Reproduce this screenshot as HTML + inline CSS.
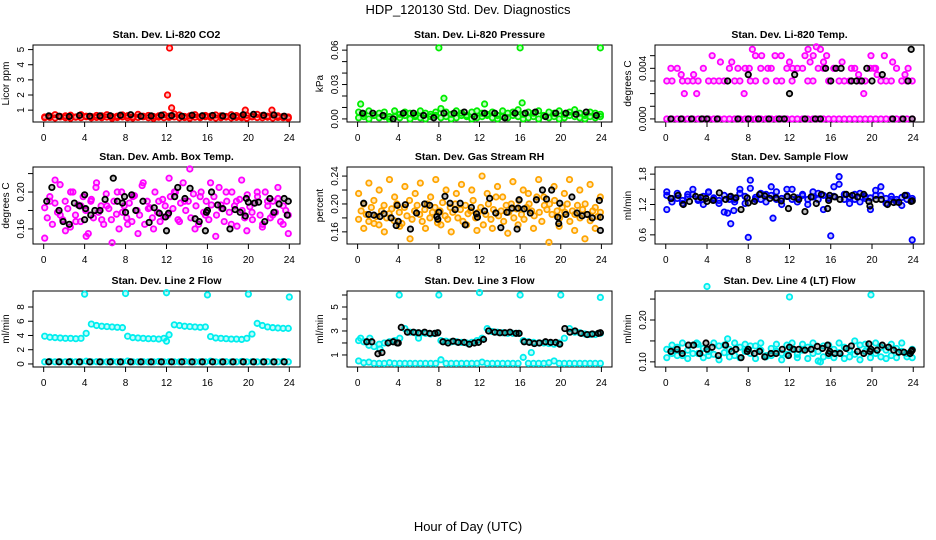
<!DOCTYPE html>
<html><head><meta charset="utf-8"><style>
html,body{margin:0;padding:0;background:#fff;}
svg{display:block;font-family:"Liberation Sans",Arial,sans-serif;}
</style></head><body>
<svg id="chart" width="936" height="540" viewBox="0 0 936 540">
<text x="468" y="14" font-size="13" text-anchor="middle">HDP_120130 Std. Dev. Diagnostics</text>
<text x="468" y="531" font-size="13" text-anchor="middle">Hour of Day (UTC)</text>
</svg>
<script>
// ---- data ----
const xTicks=[0,4,8,12,16,20,24];
const co2Red=[0.55,0.6,0.7,0.58,0.62,0.66,0.55,0.7,0.6,0.57,0.65,0.62,0.7,0.58,0.6,0.68,0.63,0.55,0.72,0.6,0.65,0.58,0.62,0.7,0.6,0.75,0.68,0.58,0.62,0.7,0.55,0.65,0.6,0.68,0.62,0.58,0.7,0.64,0.6,0.66,0.58,0.72,0.65,0.6,0.68,0.62,0.58,0.55];
const co2Red2=[0.5,0.52,0.48,0.55,0.5,0.47,0.53,0.5,0.56,0.49,0.52,0.5,0.54,0.47,0.51,0.55,0.5,0.48,0.52,0.56,0.5,0.46,0.53,0.5,0.52,0.55,0.49,0.51,0.47,0.53,0.5,0.56,0.52,0.48,0.5,0.54,0.49,0.52,0.5,0.47,0.55,0.51,0.5,0.53,0.48,0.52,0.5,0.47];
const co2OutH=[12.3,12.1,12.5,19.7,22.3];
const co2OutV=[5.1,2.0,1.15,1.0,1.0];
const co2Black=[0.62,0.6,0.58,0.65,0.6,0.62,0.63,0.66,0.7,0.6,0.62,0.66,0.64,0.6,0.66,0.63,0.65,0.62,0.6,0.7,0.72,0.66,0.68,0.6];
const presGreen=[0.006,0.004,0.007,0.003,0.005,0.006,0.002,0.007,0.004,0.006,0.005,0.003,0.007,0.005,0.004,0.006,0.009,0.006,0.004,0.007,0.005,0.003,0.006,0.007,0.005,0.004,0.006,0.003,0.007,0.005,0.006,0.008,0.004,0.006,0.005,0.007,0.003,0.006,0.005,0.007,0.004,0.006,0.008,0.005,0.003,0.006,0.005,0.004];
const presGreen2=[0.001,0.002,0.0,0.003,0.001,0.002,0.0,0.002,0.001,0.003,0.0,0.002,0.001,0.0,0.002,0.003,0.001,0.002,0.0,0.001,0.003,0.002,0.0,0.001,0.002,0.003,0.001,0.0,0.002,0.001,0.003,0.002,0.0,0.001,0.002,0.0,0.003,0.001,0.002,0.0,0.001,0.003,0.002,0.001,0.0,0.002,0.001,0.002];
const presOutH=[8,16,23.9,0.3,8.5,12.5,16.2];
const presOutV=[0.062,0.062,0.062,0.013,0.018,0.013,0.014];
const presBlack=[0.005,0.005,0.003,0.0,0.005,0.005,0.003,0.001,0.005,0.005,0.006,0.002,0.005,0.005,0.001,0.005,0.005,0.006,0.002,0.005,0.005,0.004,0.006,0.003];
const tempLow=[0,0,0,0,0,0,0,0,0,0,0,0,0,0,0,0,0,0,0,0,0,0,0,0,0,0,0,0,0,0,0,0,0,0,0,0,0,0,0,0,0,0,0,0,0,0,0,0];
const tempMid=[0.003,0.003,0.004,0.003,0.003,0.003,0.003,0.004,0.003,0.003,0.003,0.003,0.004,0.003,0.003,0.004,0.003,0.003,0.004,0.003,0.004,0.003,0.003,0.004,0.003,0.004,0.004,0.003,0.003,0.004,0.004,0.003,0.004,0.003,0.003,0.003,0.004,0.003,0.003,0.004,0.004,0.003,0.003,0.003,0.004,0.003,0.003,0.003];
const tempHighH=[0.5,1.5,1.8,2.7,3.0,4.5,5.3,6.4,7.0,7.6,8.1,8.4,8.7,9.3,9.9,10.6,11.2,12.0,12.3,13.5,13.8,14.0,14.3,14.6,15.0,15.3,15.6,16.3,17.1,18.0,18.7,19.2,19.9,20.2,20.5,21.2,22.0,23.2,23.5];
const tempHighV=[0.004,0.0035,0.002,0.0035,0.002,0.005,0.0045,0.0045,0.004,0.002,0.004,0.0055,0.005,0.005,0.004,0.005,0.005,0.0045,0.004,0.005,0.0055,0.0045,0.005,0.0057,0.0055,0.0045,0.005,0.004,0.0045,0.004,0.0035,0.002,0.005,0.004,0.0035,0.005,0.0045,0.0035,0.004];
const tempBlackH=[0.5,1.5,2.5,3.5,4.0,5.0,6.0,7.0,8.0,8.0,9.0,10.0,11.0,11.5,12.0,12.5,13.5,14.5,15.0,15.5,16.0,16.5,17.0,18.0,18.5,19.0,19.5,20.0,21.0,22.0,23.0,23.5,23.8,23.9];
const tempBlackV=[0,0,0,0,0,0,0.003,0,0,0.0035,0,0,0,0,0.002,0.0035,0,0,0,0.004,0.003,0.004,0.004,0.003,0.003,0.003,0.004,0.003,0.0035,0,0,0.003,0.0055,0];
const ambMag=[0.183,0.172,0.195,0.165,0.188,0.178,0.208,0.17,0.19,0.182,0.162,0.2,0.175,0.186,0.168,0.195,0.18,0.155,0.19,0.172,0.205,0.178,0.185,0.165,0.198,0.182,0.17,0.19,0.176,0.16,0.2,0.185,0.172,0.188,0.168,0.196,0.18,0.175,0.207,0.165,0.19,0.183,0.172,0.2,0.178,0.168,0.192,0.185,
0.175,0.195,0.182,0.2,0.17,0.188,0.21,0.18,0.19,0.172,0.198,0.185,0.165,0.2,0.178,0.19,0.17,0.186,0.195,0.175,0.205,0.182,0.168,0.19,0.178,0.2,0.185,0.163,0.192,0.18,0.172,0.197,0.184,0.17,0.188,0.195,0.175,0.165,0.2,0.185,0.172,0.19,0.178,0.193,0.168,0.185,0.18,0.175];
const ambMag2=[0.15,0.19,0.213,0.175,0.158,0.2,0.168,0.185,0.152,0.192,0.21,0.17,0.185,0.145,0.2,0.178,0.165,0.195,0.155,0.21,0.182,0.16,0.19,0.173,0.215,0.2,0.168,0.19,0.225,0.16,0.195,0.175,0.21,0.152,0.186,0.2,0.165,0.19,0.213,0.158,0.178,0.2,0.162,0.19,0.175,0.205,0.165,0.155];
const ambBlackH=[0.3,0.8,1.5,1.9,2.5,3.0,3.5,4.0,4.0,4.1,4.6,5.0,5.5,6.0,6.8,7.2,7.7,7.9,8.0,8.6,9.0,9.7,10.3,10.8,11.3,11.9,12.0,12.2,12.8,13.1,13.8,14.3,14.8,15.2,15.8,15.9,16.0,16.4,17.0,17.5,18.2,18.7,19.2,19.7,19.8,20.0,20.6,21.0,21.6,22.1,22.5,23.0,23.5,23.8,23.9];
const ambBlackV=[0.19,0.205,0.18,0.168,0.165,0.188,0.185,0.17,0.197,0.182,0.175,0.18,0.18,0.192,0.215,0.19,0.188,0.195,0.178,0.197,0.18,0.19,0.167,0.183,0.177,0.173,0.158,0.177,0.195,0.205,0.193,0.204,0.171,0.168,0.158,0.178,0.18,0.2,0.186,0.182,0.16,0.181,0.178,0.174,0.193,0.189,0.188,0.189,0.168,0.193,0.178,0.187,0.193,0.175,0.19];
const rhOrg=[0.178,0.19,0.2,0.185,0.175,0.195,0.205,0.182,0.17,0.19,0.198,0.18,0.186,0.193,0.176,0.2,0.188,0.172,0.195,0.183,0.205,0.178,0.19,0.198,0.185,0.175,0.192,0.2,0.18,0.188,0.195,0.173,0.19,0.202,0.183,0.178,0.195,0.188,0.2,0.18,0.192,0.175,0.198,0.186,0.19,0.205,0.18,0.188,
0.195,0.17,0.185,0.2,0.178,0.192,0.21,0.183,0.19,0.175,0.198,0.188,0.2,0.18,0.193,0.205,0.185,0.178,0.195,0.2,0.19,0.183,0.21,0.188,0.175,0.198,0.192,0.2,0.185,0.205,0.19,0.18,0.195,0.188,0.2,0.175,0.19,0.185,0.198,0.18,0.192,0.2,0.185,0.176,0.19,0.195,0.182,0.188];
const rhOrg2=[0.215,0.165,0.23,0.172,0.22,0.16,0.235,0.21,0.168,0.225,0.15,0.215,0.23,0.165,0.21,0.235,0.17,0.22,0.16,0.215,0.228,0.17,0.22,0.162,0.24,0.215,0.165,0.225,0.21,0.158,0.232,0.17,0.22,0.215,0.165,0.235,0.21,0.145,0.225,0.168,0.215,0.235,0.162,0.22,0.15,0.228,0.165,0.21];
const rhBlackH=[0.6,1.1,1.6,2.2,2.6,3.3,3.8,3.9,4.0,4.7,5.2,5.8,6.6,7.1,7.8,7.9,8.0,8.6,9.1,9.6,10.1,10.6,11.2,11.7,11.8,12.5,13.0,13.6,14.1,14.7,15.2,15.7,15.8,15.9,16.4,17.0,17.6,18.2,18.6,19.1,19.7,19.8,19.9,20.5,21.1,21.6,22.1,22.6,23.1,23.8,23.9,23.9];
const rhBlackV=[0.201,0.185,0.184,0.182,0.186,0.18,0.169,0.198,0.175,0.199,0.164,0.187,0.2,0.198,0.182,0.178,0.188,0.211,0.201,0.192,0.201,0.17,0.195,0.186,0.181,0.19,0.208,0.187,0.166,0.188,0.194,0.164,0.194,0.206,0.193,0.187,0.206,0.22,0.207,0.22,0.181,0.172,0.201,0.185,0.21,0.187,0.183,0.185,0.18,0.205,0.181,0.162];
const sfBlue=[1.38,1.32,1.42,1.28,1.35,1.4,1.3,1.36,1.44,1.33,1.28,1.38,1.35,1.3,1.42,1.36,1.52,1.34,1.3,1.4,1.38,1.45,1.32,1.36,1.5,1.33,1.4,1.3,1.35,1.42,1.38,1.32,1.36,1.6,1.4,1.35,1.3,1.42,1.36,1.33,1.48,1.38,1.32,1.36,1.3,1.34,1.38,1.32];
const sfBlue2=[1.45,1.25,1.32,1.22,1.4,1.5,1.28,1.2,1.45,1.3,1.22,1.05,1.3,1.25,1.5,1.22,1.68,1.3,1.42,1.25,1.55,1.3,1.2,1.5,1.3,1.25,1.38,1.2,1.45,1.3,1.1,1.33,1.55,1.75,1.3,1.22,1.4,1.25,1.32,1.1,1.38,1.55,1.22,1.3,1.25,1.18,1.3,1.28];
const sfOutH=[6.3,8.0,16.0,23.9,10.4,0.1,6.0,6.6];
const sfOutV=[0.82,0.55,0.58,0.5,0.93,1.1,1.03,1.08];
const sfBlackH=[0.5,1.2,1.7,2.3,2.9,3.4,3.9,4.0,4.6,5.2,5.8,6.3,6.8,7.3,7.9,8.0,8.6,9.1,9.6,10.1,10.7,11.2,11.8,11.9,12.4,12.9,13.5,14.1,14.6,15.1,15.7,15.8,15.9,16.4,16.9,17.5,18.1,18.6,19.2,19.7,19.8,20.4,20.9,21.5,22.1,22.6,23.2,23.8,23.9];
const sfBlackV=[1.32,1.38,1.2,1.26,1.36,1.34,1.32,1.26,1.28,1.43,1.3,1.36,1.33,1.1,1.33,1.23,1.26,1.4,1.37,1.32,1.33,1.27,1.36,1.12,1.35,1.3,1.06,1.35,1.22,1.4,1.12,1.28,1.38,1.35,1.3,1.4,1.38,1.35,1.4,1.26,1.17,1.3,1.3,1.2,1.24,1.24,1.38,1.26,1.27];
const l2Cyan=[3.9,3.75,3.7,3.65,3.6,3.6,3.55,3.6,4.3,5.6,5.4,5.3,5.25,5.2,5.15,5.1,3.9,3.7,3.65,3.6,3.55,3.55,3.5,3.6,4.1,5.5,5.4,5.3,5.25,5.2,5.15,5.2,3.85,3.65,3.6,3.55,3.5,3.5,3.45,3.6,4.2,5.7,5.4,5.2,5.1,5.05,5.0,5.0];
const l2Low=[0.3,0.35,0.3,0.32,0.3,0.35,0.3,0.3,0.38,0.3,0.32,0.3,0.3,0.35,0.3,0.3,0.4,0.3,0.3,0.32,0.3,0.3,0.35,0.3,0.32,0.3,0.3,0.35,0.3,0.3,0.32,0.3,0.38,0.3,0.3,0.32,0.3,0.3,0.35,0.3,0.32,0.3,0.3,0.32,0.3,0.3,0.35,0.3];
const l2OutH=[4.0,8.0,12.0,16.0,20.0,24.0,12.0];
const l2OutV=[9.8,9.9,10.0,9.7,9.8,9.4,3.2];
const l2Black=[0.3,0.3,0.3,0.3,0.3,0.3,0.3,0.3,0.3,0.3,0.3,0.3,0.3,0.3,0.3,0.3,0.3,0.3,0.3,0.3,0.3,0.3,0.3,0.3];
const l3Cyan=[2.2,2.1,1.8,1.7,1.9,2.0,2.1,2.2,2.4,3.2,2.9,2.85,2.8,2.8,2.75,2.8,2.2,2.15,2.1,2.1,2.05,2.0,2.05,2.2,2.4,3.2,2.95,2.9,2.85,2.8,2.8,2.8,2.2,2.1,2.05,2.0,2.0,1.95,1.9,2.0,2.4,3.2,2.9,2.85,2.75,2.7,2.7,2.8];
const l3Low=[0.5,0.35,0.4,0.3,0.3,0.3,0.35,0.3,0.3,0.3,0.3,0.3,0.3,0.3,0.3,0.3,0.6,0.3,0.3,0.3,0.3,0.3,0.3,0.3,0.4,0.3,0.3,0.3,0.3,0.3,0.3,0.3,0.8,0.3,0.3,0.3,0.3,0.35,0.5,0.3,0.3,0.3,0.3,0.3,0.3,0.3,0.3,0.3];
const l3OutH=[4.1,8.0,12.0,16.0,20.0,23.9,0.3,1.2,2.2,17.1,6.0];
const l3OutV=[6.0,6.0,6.2,6.0,6.0,5.8,2.4,2.4,1.5,1.2,2.4];
const l3BlackH=[0.9,1.4,2.0,2.4,3.0,3.5,3.9,4.0,4.3,4.9,5.5,6.0,6.6,7.1,7.6,7.9,8.4,8.9,9.4,9.9,10.5,11.0,11.5,11.9,12.4,12.9,13.5,14.0,14.5,15.0,15.6,15.9,16.4,16.9,17.4,17.9,18.5,19.0,19.5,19.9,20.4,20.9,21.4,22.0,22.6,23.1,23.7,23.9];
const l3BlackV=[2.1,2.1,1.1,1.2,2.0,2.1,2.0,2.0,3.3,2.9,2.9,2.85,2.9,2.8,2.8,2.85,2.1,2.0,2.15,2.05,2.05,1.9,2.0,2.05,2.3,3.0,2.9,2.85,2.85,2.9,2.8,2.8,2.1,2.05,1.95,2.0,2.1,2.05,2.05,1.9,3.2,2.9,3.0,2.8,2.7,2.75,2.8,2.85];
const l4Cyan=[0.13,0.12,0.135,0.115,0.128,0.14,0.12,0.132,0.125,0.118,0.138,0.122,0.13,0.115,0.135,0.125,0.12,0.138,0.128,0.115,0.132,0.125,0.12,0.14,0.13,0.118,0.128,0.135,0.12,0.125,0.138,0.115,0.13,0.122,0.135,0.128,0.118,0.14,0.125,0.13,0.12,0.135,0.128,0.115,0.132,0.125,0.12,0.13];
const l4Cyan2=[0.11,0.14,0.115,0.145,0.108,0.12,0.142,0.11,0.115,0.145,0.105,0.14,0.112,0.145,0.11,0.142,0.138,0.108,0.145,0.112,0.115,0.142,0.105,0.118,0.145,0.11,0.142,0.108,0.145,0.102,0.112,0.14,0.11,0.145,0.108,0.112,0.15,0.105,0.142,0.11,0.145,0.112,0.108,0.142,0.11,0.145,0.112,0.11];
const l4OutH=[4.0,12.0,19.9,6.0,3.0,15.0];
const l4OutV=[0.28,0.255,0.26,0.155,0.145,0.1];
const l4BlackH=[0.5,1.1,1.6,2.2,2.7,3.3,3.9,4.0,4.5,5.1,5.8,6.4,6.8,7.3,7.9,8.0,8.6,9.1,9.6,10.2,10.7,11.3,11.9,12.0,12.4,12.9,13.5,14.1,14.7,15.2,15.7,15.8,15.9,16.4,16.9,17.5,18.0,18.6,19.2,19.7,19.8,19.9,20.5,21.0,21.6,22.1,22.6,23.1,23.7,23.8,23.9];
const l4BlackV=[0.125,0.13,0.12,0.14,0.14,0.12,0.145,0.13,0.135,0.115,0.14,0.125,0.13,0.11,0.125,0.13,0.12,0.125,0.112,0.12,0.12,0.13,0.115,0.135,0.13,0.13,0.128,0.13,0.137,0.132,0.14,0.12,0.125,0.12,0.12,0.132,0.138,0.125,0.12,0.143,0.125,0.13,0.128,0.14,0.135,0.128,0.123,0.123,0.12,0.125,0.128];

// ---- layout (not data) ----
const NS='http://www.w3.org/2000/svg';
const svg=document.getElementById('chart');
const colX=[[33,300],[347,612],[655,924]];
const rowY=[[45,122],[167,244],[291,367]];
function el(tag,attrs,parent){const e=document.createElementNS(NS,tag);for(const k in attrs)e.setAttribute(k,attrs[k]);(parent||svg).appendChild(e);return e;}

function panel(cfg){
  const [x0,x1]=colX[cfg.col],[y0,y1]=rowY[cfg.row];
  const g=el('g',{});
  
  
  const px=(x1-x0)*0.04,py=(y1-y0)*0.04;
  const sx=h=>x0+px+(h/24)*(x1-x0-2*px);
  const sy=v=>y1-py-((v-cfg.ymin)/(cfg.ymax-cfg.ymin))*(y1-y0-2*py);
  const box=el('rect',{x:x0,y:y0,width:x1-x0,height:y1-y0,fill:'none',stroke:'#000','stroke-width':1},g);
  
  
  const t=el('text',{x:(x0+x1)/2,y:y0-7,'font-size':10.5,'font-weight':'bold','text-anchor':'middle'},g);
  t.textContent=cfg.title;
  
  
  const xa=el('g',{},g);
  
  
  el('line',{x1:sx(xTicks[0]),x2:sx(xTicks[xTicks.length-1]),y1:y1,y2:y1,stroke:'#000'},xa);
  xTicks.forEach(v=>{
    el('line',{x1:sx(v),x2:sx(v),y1:y1,y2:y1+5,stroke:'#000'},xa);
    const l=el('text',{x:sx(v),y:y1+19,'font-size':10,'text-anchor':'middle'},xa);
    l.textContent=v;
    
    
  });
  const ya=el('g',{},g);
  
  
  el('line',{x1:x0,x2:x0,y1:sy(cfg.ticks[0]),y2:sy(cfg.ticks[cfg.ticks.length-1]),stroke:'#000'},ya);
  cfg.ticks.forEach(v=>{
    el('line',{x1:x0-5,x2:x0,y1:sy(v),y2:sy(v),stroke:'#000'},ya);
  });
  cfg.labels.forEach(v=>{
    const lx=x0-9,ly=sy(v);
    const l=el('text',{x:lx,y:ly,'font-size':10,'text-anchor':'middle',transform:`rotate(-90 ${lx} ${ly})`},ya);
    l.textContent=cfg.fmt(v);
    
    
  });
  const yt=el('text',{x:x0-24,y:(y0+y1)/2,'font-size':10,'text-anchor':'middle',transform:`rotate(-90 ${x0-24} ${(y0+y1)/2})`},g);
  yt.textContent=cfg.ylab;
  
  
  const pts=el('g',{},g);
  
  
  cfg.series.forEach(s=>{
    const vals=s.v;
    vals.forEach((v,i)=>{
      const h=s.h?s.h[i]:0.1+i*23.8/(vals.length-1);
      const c=el('circle',{cx:sx(h),cy:sy(v),r:2.7,fill:s.c,'fill-opacity':0.25,stroke:s.c,'stroke-width':1.8},pts);
      
      
    });
  });
}
const R='#ff0000',G='#00ee00',M='#ff00ff',O='#ffa500',B='#0000ff',C='#00eeee',K='#000';
const f2=v=>v.toFixed(2),f3=v=>v.toFixed(3),f1=v=>v.toFixed(1),f0=v=>String(v);
panel({name:'panel-co2',col:0,row:0,title:'Stan. Dev. Li-820 CO2',ylab:'Licor ppm',ymin:0.42,ymax:5.1,ticks:[1,2,3,4,5],labels:[1,2,3,4,5],fmt:f0,
 series:[{v:co2Red2,c:R},{v:co2Red,c:R},{v:co2OutV,h:co2OutH,c:R},{v:co2Black,h:co2Black.map((_,i)=>0.5+i),c:K}]});
panel({name:'panel-pressure',col:1,row:0,title:'Stan. Dev. Li-820 Pressure',ylab:'kPa',ymin:0,ymax:0.0618,ticks:[0,0.01,0.02,0.03,0.04,0.05,0.06],labels:[0,0.03,0.06],fmt:f2,
 series:[{v:presGreen2,c:G},{v:presGreen,c:G},{v:presOutV,h:presOutH,c:G},{v:presBlack,h:presBlack.map((_,i)=>0.5+i),c:K}]});
panel({name:'panel-li820-temp',col:2,row:0,title:'Stan. Dev. Li-820 Temp.',ylab:'degrees C',ymin:0,ymax:0.0056,ticks:[0,0.001,0.002,0.003,0.004,0.005],labels:[0,0.004],fmt:f3,
 series:[{v:tempLow,c:M},{v:tempMid,c:M},{v:tempHighV,h:tempHighH,c:M},{v:tempBlackV,h:tempBlackH,c:K}]});
panel({name:'panel-amb-box-temp',col:0,row:1,title:'Stan. Dev. Amb. Box Temp.',ylab:'degrees C',ymin:0.147,ymax:0.2238,ticks:[0.16,0.18,0.2,0.22],labels:[0.16,0.2],fmt:f2,
 series:[{v:ambMag,c:M},{v:ambMag2,c:M},{v:ambBlackV,h:ambBlackH,c:K}]});
panel({name:'panel-gas-stream-rh',col:1,row:1,title:'Stan. Dev. Gas Stream RH',ylab:'percent',ymin:0.147,ymax:0.2486,ticks:[0.16,0.18,0.2,0.22,0.24],labels:[0.16,0.2,0.24],fmt:f2,
 series:[{v:rhOrg,c:O},{v:rhOrg2,c:O},{v:rhBlackV,h:rhBlackH,c:K}]});
panel({name:'panel-sample-flow',col:2,row:1,title:'Stan. Dev. Sample Flow',ylab:'ml/min',ymin:0.48,ymax:1.88,ticks:[0.6,0.9,1.2,1.5,1.8],labels:[0.6,1.2,1.8],fmt:f1,
 series:[{v:sfBlue2,c:B},{v:sfBlue,c:B},{v:sfOutV,h:sfOutH,c:B},{v:sfBlackV,h:sfBlackH,c:K}]});
panel({name:'panel-line2-flow',col:0,row:2,title:'Stan. Dev. Line 2 Flow',ylab:'ml/min',ymin:0,ymax:9.82,ticks:[0,2,4,6,8],labels:[0,2,4,6,8],fmt:f0,
 series:[{v:l2Cyan,c:C},{v:l2Low,c:C},{v:l2OutV,h:l2OutH,c:C},{v:l2Black,h:l2Black.map((_,i)=>0.5+i),c:K}]});
panel({name:'panel-line3-flow',col:1,row:2,title:'Stan. Dev. Line 3 Flow',ylab:'ml/min',ymin:0.25,ymax:6.08,ticks:[1,2,3,4,5,6],labels:[1,3,5],fmt:f0,
 series:[{v:l3Cyan,c:C},{v:l3Low,c:C},{v:l3OutV,h:l3OutH,c:C},{v:l3BlackV,h:l3BlackH,c:K}]});
panel({name:'panel-line4-flow',col:2,row:2,title:'Stan. Dev. Line 4 (LT) Flow',ylab:'ml/min',ymin:0.095,ymax:0.262,ticks:[0.1,0.15,0.2,0.25],labels:[0.1,0.2],fmt:f2,
 series:[{v:l4Cyan2,c:C},{v:l4Cyan,c:C},{v:l4OutV,h:l4OutH,c:C},{v:l4BlackV,h:l4BlackH,c:K}]});
</script>
</body></html>
